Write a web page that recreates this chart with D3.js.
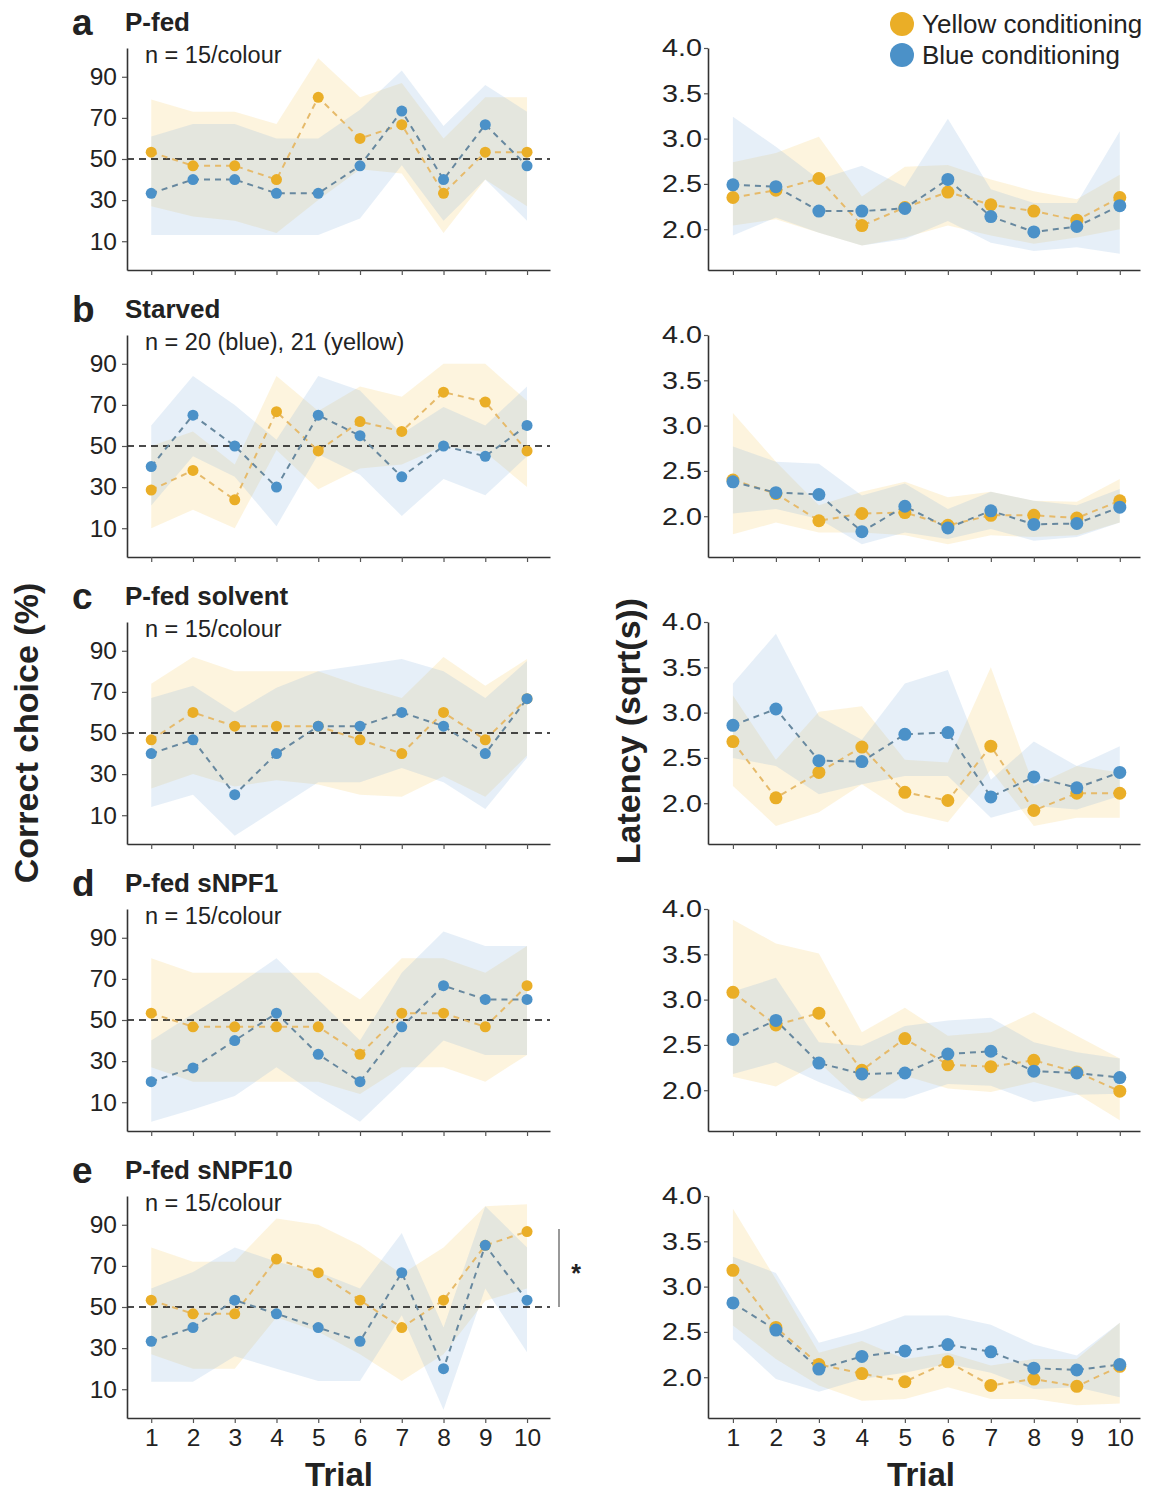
<!DOCTYPE html>
<html>
<head>
<meta charset="utf-8">
<script src="https://cdn.jsdelivr.net/npm/d3@7"></script>
<style>
  html, body { margin: 0; padding: 0; background: #fff; }
  svg text { font-family: "Liberation Sans", Arial, Helvetica, sans-serif; fill: #222; }
</style>
</head>
<body>
<svg id="fig" width="1151" height="1494"></svg>
<script>
// Trials and panel labels
const trials = [1, 2, 3, 4, 5, 6, 7, 8, 9, 10];
const rowLetters = ["a", "b", "c", "d", "e"];
const rowTitles = ["P-fed", "Starved", "P-fed solvent", "P-fed sNPF1", "P-fed sNPF10"];
const rowNotes = ["n = 15/colour", "n = 20 (blue), 21 (yellow)", "n = 15/colour", "n = 15/colour", "n = 15/colour"];
const choiceTicks = [10, 30, 50, 70, 90];
const latencyTicks = [2.0, 2.5, 3.0, 3.5, 4.0];
const seriesNames = ["Yellow conditioning", "Blue conditioning"];

// Correct choice (%) per row a..e, trials 1..10
const choiceYellow = [
  [53.3, 46.7, 46.7, 40, 80, 60, 66.7, 33.3, 53.3, 53.3],
  [28.6, 38.1, 23.8, 66.7, 47.6, 61.9, 57.1, 76.2, 71.4, 47.6],
  [46.7, 60, 53.3, 53.3, 53.3, 46.7, 40, 60, 46.7, 66.7],
  [53.3, 46.7, 46.7, 46.7, 46.7, 33.3, 53.3, 53.3, 46.7, 66.7],
  [53.3, 46.7, 46.7, 73.3, 66.7, 53.3, 40, 53.3, 80, 86.7]
];
const choiceYellowLo = [
  [27, 22, 20, 14, 30, 45, 43, 14, 40, 27],
  [10, 19, 10, 48, 29, 39, 41, 50, 47, 30],
  [23, 30, 24, 27, 25, 20, 19, 29, 19, 39],
  [27, 20, 20, 20, 20, 14, 27, 27, 20, 33],
  [27, 20, 20, 45, 38, 27, 14, 27, 53, 59]
];
const choiceYellowHi = [
  [79, 73, 73, 67, 99, 80, 87, 60, 80, 80],
  [50, 57, 41, 84, 67, 79, 74, 90, 90, 72],
  [74, 87, 80, 80, 80, 73, 67, 87, 73, 86],
  [80, 73, 73, 73, 73, 60, 80, 80, 73, 86],
  [79, 72, 72, 93, 90, 80, 66, 79, 99, 100]
];
const choiceBlue = [
  [33.3, 40, 40, 33.3, 33.3, 46.7, 73.3, 40, 66.7, 46.7],
  [40, 65, 50, 30, 65, 55, 35, 50, 45, 60],
  [40, 46.7, 20, 40, 53.3, 53.3, 60, 53.3, 40, 66.7],
  [20, 26.7, 40, 53.3, 33.3, 20, 46.7, 66.7, 60, 60],
  [33.3, 40, 53.3, 46.7, 40, 33.3, 66.7, 20, 80, 53.3]
];
const choiceBlueLo = [
  [13, 13, 13, 13, 13, 21, 47, 20, 40, 20],
  [21, 45, 35, 11, 46, 36, 16, 34, 26, 45],
  [14, 20, 0, 13, 26, 26, 33, 26, 13, 38],
  [0.5, 6.5, 13, 27, 13, 0.5, 20, 40, 33, 33],
  [13.6, 13.6, 26, 20, 14, 14, 46, 0, 59, 28]
];
const choiceBlueHi = [
  [61, 67, 67, 60, 60, 74, 93, 66, 86, 73],
  [60, 84, 70, 53, 84, 77, 56, 69, 60, 79],
  [67, 73, 60, 72, 80, 83, 86, 80, 67, 85],
  [40, 53, 66, 80, 60, 40, 73, 93, 86, 86],
  [59, 67, 79, 72, 67, 59, 86, 40, 99, 79]
];

// Latency (sqrt(s)) per row a..e, trials 1..10
const latencyYellow = [
  [2.35, 2.43, 2.56, 2.04, 2.24, 2.41, 2.27, 2.20, 2.10, 2.35],
  [2.40, 2.25, 1.95, 2.03, 2.04, 1.90, 2.01, 2.01, 1.98, 2.17],
  [2.68, 2.06, 2.34, 2.62, 2.12, 2.03, 2.63, 1.92, 2.11, 2.11],
  [3.08, 2.72, 2.85, 2.22, 2.57, 2.28, 2.26, 2.33, 2.20, 1.99],
  [3.18, 2.55, 2.14, 2.04, 1.95, 2.17, 1.91, 1.98, 1.90, 2.12]
];
const latencyYellowLo = [
  [2.04, 2.11, 1.96, 1.82, 1.91, 2.04, 1.93, 1.84, 1.91, 2.00],
  [1.80, 1.93, 1.82, 1.82, 1.79, 1.69, 1.79, 1.77, 1.79, 1.93],
  [2.19, 1.75, 1.90, 2.21, 1.90, 1.79, 2.37, 1.75, 1.84, 1.84],
  [2.15, 2.04, 2.31, 1.87, 2.16, 2.02, 1.98, 2.09, 1.96, 1.67],
  [2.57, 2.20, 1.91, 1.74, 1.76, 1.89, 1.76, 1.76, 1.69, 1.71]
];
const latencyYellowHi = [
  [2.74, 2.84, 3.02, 2.36, 2.69, 2.71, 2.55, 2.42, 2.33, 2.60],
  [3.14, 2.60, 2.12, 2.27, 2.38, 2.21, 2.27, 2.17, 2.16, 2.41],
  [3.19, 2.48, 3.01, 3.07, 2.48, 2.45, 3.50, 2.19, 2.41, 2.34],
  [3.88, 3.62, 3.51, 2.64, 2.91, 2.60, 2.64, 2.86, 2.60, 2.35],
  [3.86, 3.08, 2.27, 2.40, 2.20, 2.27, 2.13, 2.20, 2.20, 2.60]
];
const latencyBlue = [
  [2.49, 2.47, 2.20, 2.20, 2.23, 2.55, 2.14, 1.97, 2.03, 2.26],
  [2.38, 2.26, 2.24, 1.83, 2.11, 1.87, 2.06, 1.91, 1.92, 2.10],
  [2.86, 3.04, 2.47, 2.46, 2.76, 2.78, 2.07, 2.29, 2.17, 2.34],
  [2.56, 2.77, 2.30, 2.18, 2.19, 2.40, 2.43, 2.21, 2.19, 2.14],
  [2.82, 2.52, 2.09, 2.23, 2.29, 2.36, 2.28, 2.10, 2.08, 2.14]
];
const latencyBlueLo = [
  [1.93, 2.13, 1.96, 1.82, 1.89, 2.09, 1.85, 1.76, 1.80, 1.73],
  [2.03, 2.08, 1.97, 1.69, 1.82, 1.75, 1.86, 1.73, 1.77, 1.93],
  [2.50, 2.41, 2.10, 2.21, 2.30, 2.30, 1.84, 1.97, 1.93, 2.08],
  [2.18, 2.31, 2.09, 1.91, 1.91, 2.07, 2.05, 1.87, 1.95, 1.96],
  [2.42, 1.98, 1.84, 1.98, 2.05, 2.15, 2.05, 1.87, 1.89, 1.78]
];
const latencyBlueHi = [
  [3.24, 2.91, 2.55, 2.70, 2.47, 3.22, 2.44, 2.29, 2.29, 3.08],
  [2.77, 2.60, 2.58, 2.23, 2.36, 2.08, 2.27, 2.17, 2.12, 2.30],
  [3.32, 3.87, 2.96, 2.70, 3.32, 3.47, 2.26, 2.68, 2.41, 2.63],
  [3.09, 3.24, 2.53, 2.49, 2.71, 2.77, 2.80, 2.53, 2.42, 2.35],
  [3.33, 3.15, 2.38, 2.51, 2.68, 2.68, 2.58, 2.36, 2.24, 2.60]
];

// Colours
const yellowDot = "#EAAE27", blueDot = "#4B91C8";
const yellowLine = "#E6BA6A", blueLine = "#67889F";
const yellowBand = "#F5CC6A", blueBand = "#8DB6E0";

const svg = d3.select("#fig");

// Geometry
const rowStep = 287;
const topY = 48;
const plotH = 222;
const left = { x0: 127, x1: 550 };
const right = { x0: 708, x1: 1140 };

const xLeft = d3.scaleLinear().domain([0.42, 10.55]).range([left.x0, left.x1]);
const xRight = d3.scaleLinear().domain([0.42, 10.47]).range([right.x0, right.x1]);

// shaded intervals for both conditioning colours
function drawBands(g, x, y, mean, lo, hi) {
  const series = [
    { m: mean[0], lo: lo[0], hi: hi[0], band: yellowBand, line: yellowLine, dot: yellowDot },
    { m: mean[1], lo: lo[1], hi: hi[1], band: blueBand, line: blueLine, dot: blueDot }
  ];
  series.forEach(s => {
    const area = d3.area()
      .x((d, i) => x(trials[i]))
      .y0((d, i) => y(s.lo[i]))
      .y1((d, i) => y(s.hi[i]));
    g.append("path").attr("d", area(s.m))
      .attr("fill", s.band).attr("fill-opacity", 0.22);
  });
  return series;
}

function drawLinesAndDots(g, x, y, series, rDot) {
  series.forEach(s => {
    const line = d3.line().x((d, i) => x(trials[i])).y(d => y(d));
    g.append("path").attr("d", line(s.m))
      .attr("fill", "none").attr("stroke", s.line)
      .attr("stroke-width", 2).attr("stroke-dasharray", "6,5");
  });
  series.forEach(s => {
    g.selectAll(null).data(s.m).enter().append("circle")
      .attr("cx", (d, i) => x(trials[i]))
      .attr("cy", d => y(d))
      .attr("r", rDot)
      .attr("fill", s.dot);
  });
}

function styleAxis(ax) {
  ax.select(".domain").attr("stroke", "#333").attr("stroke-width", 1.6);
  ax.selectAll(".tick line").attr("stroke", "#555").attr("stroke-width", 1.2);
}

rowLetters.forEach((letter, i) => {
  const top = topY + i * rowStep;
  const bottom = top + plotH;
  const isLast = i === rowLetters.length - 1;

  // ----- left: correct choice -----
  const yL = d3.scaleLinear().domain([-4, 104]).range([bottom, top]);
  const gL = svg.append("g");
  const sL = drawBands(gL, xLeft, yL,
    [choiceYellow[i], choiceBlue[i]],
    [choiceYellowLo[i], choiceBlueLo[i]],
    [choiceYellowHi[i], choiceBlueHi[i]]);

  // chance level
  gL.append("line")
    .attr("x1", left.x0).attr("x2", left.x1)
    .attr("y1", yL(50)).attr("y2", yL(50))
    .attr("stroke", "#111").attr("stroke-width", 1.6)
    .attr("stroke-dasharray", "7,5");

  drawLinesAndDots(gL, xLeft, yL, sL, 5.5);

  const axYL = gL.append("g").attr("transform", `translate(${left.x0},0)`)
    .call(d3.axisLeft(yL).tickValues(choiceTicks).tickSize(5).tickPadding(5).tickSizeOuter(0));
  styleAxis(axYL);
  axYL.selectAll(".tick text").style("font-size", "24.5px").attr("fill", "#222");

  const axXL = gL.append("g").attr("transform", `translate(0,${bottom})`)
    .call(d3.axisBottom(xLeft).tickValues(trials).tickSize(5).tickPadding(6).tickSizeOuter(0));
  styleAxis(axXL);
  axXL.selectAll(".tick text").style("font-size", "24.5px").attr("fill", "#222")
    .style("display", isLast ? null : "none");

  // panel letter, title, sample size
  svg.append("text").attr("x", 72).attr("y", 35 + i * rowStep)
    .style("font-size", "37px").style("font-weight", "bold").text(letter);
  svg.append("text").attr("x", 125).attr("y", 31 + i * rowStep)
    .style("font-size", "26px").style("font-weight", "bold").text(rowTitles[i]);
  svg.append("text").attr("x", 145).attr("y", top + 15)
    .style("font-size", "23.5px").text(rowNotes[i]);

  // ----- right: latency -----
  const yR = d3.scaleLinear().domain([1.55, 4.0]).range([bottom, top]);
  const gR = svg.append("g");
  const sR = drawBands(gR, xRight, yR,
    [latencyYellow[i], latencyBlue[i]],
    [latencyYellowLo[i], latencyBlueLo[i]],
    [latencyYellowHi[i], latencyBlueHi[i]]);
  drawLinesAndDots(gR, xRight, yR, sR, 6.5);

  const axYR = gR.append("g").attr("transform", `translate(${right.x0},0)`)
    .call(d3.axisLeft(yR).tickValues(latencyTicks).tickFormat(d3.format(".1f"))
      .tickSize(4).tickPadding(2).tickSizeOuter(0));
  styleAxis(axYR);
  axYR.selectAll(".tick text").style("font-size", "24.5px").attr("fill", "#222")
    .attr("textLength", 40).attr("lengthAdjust", "spacingAndGlyphs");

  const axXR = gR.append("g").attr("transform", `translate(0,${bottom})`)
    .call(d3.axisBottom(xRight).tickValues(trials).tickSize(5).tickPadding(6).tickSizeOuter(0));
  styleAxis(axXR);
  axXR.selectAll(".tick text").style("font-size", "24.5px").attr("fill", "#222")
    .style("display", isLast ? null : "none");

  // significance bracket on the last row
  if (isLast) {
    svg.append("line")
      .attr("x1", 559).attr("x2", 559)
      .attr("y1", yL(88)).attr("y2", yL(50))
      .attr("stroke", "#777").attr("stroke-width", 1.5);
    svg.append("text").attr("x", 576).attr("y", yL(69) + 14)
      .attr("text-anchor", "middle")
      .style("font-size", "25px").style("font-weight", "bold").text("*");
  }
});

// Axis titles
svg.append("text")
  .attr("transform", "translate(38,733) rotate(-90)")
  .attr("text-anchor", "middle")
  .style("font-size", "34px").style("font-weight", "bold")
  .text("Correct choice (%)");
svg.append("text")
  .attr("transform", "translate(640,731) rotate(-90)")
  .attr("text-anchor", "middle")
  .style("font-size", "34px").style("font-weight", "bold")
  .text("Latency (sqrt(s))");
svg.append("text").attr("x", 339).attr("y", 1486)
  .attr("text-anchor", "middle")
  .style("font-size", "33px").style("font-weight", "bold").text("Trial");
svg.append("text").attr("x", 921).attr("y", 1486)
  .attr("text-anchor", "middle")
  .style("font-size", "33px").style("font-weight", "bold").text("Trial");

// Legend
const legend = svg.append("g");
[yellowDot, blueDot].forEach((c, k) => {
  legend.append("circle").attr("cx", 902).attr("cy", 24 + k * 31).attr("r", 12).attr("fill", c);
  legend.append("text").attr("x", 922).attr("y", 24 + k * 31 + 9)
    .style("font-size", "26px").text(seriesNames[k]);
});
</script>
</body>
</html>
